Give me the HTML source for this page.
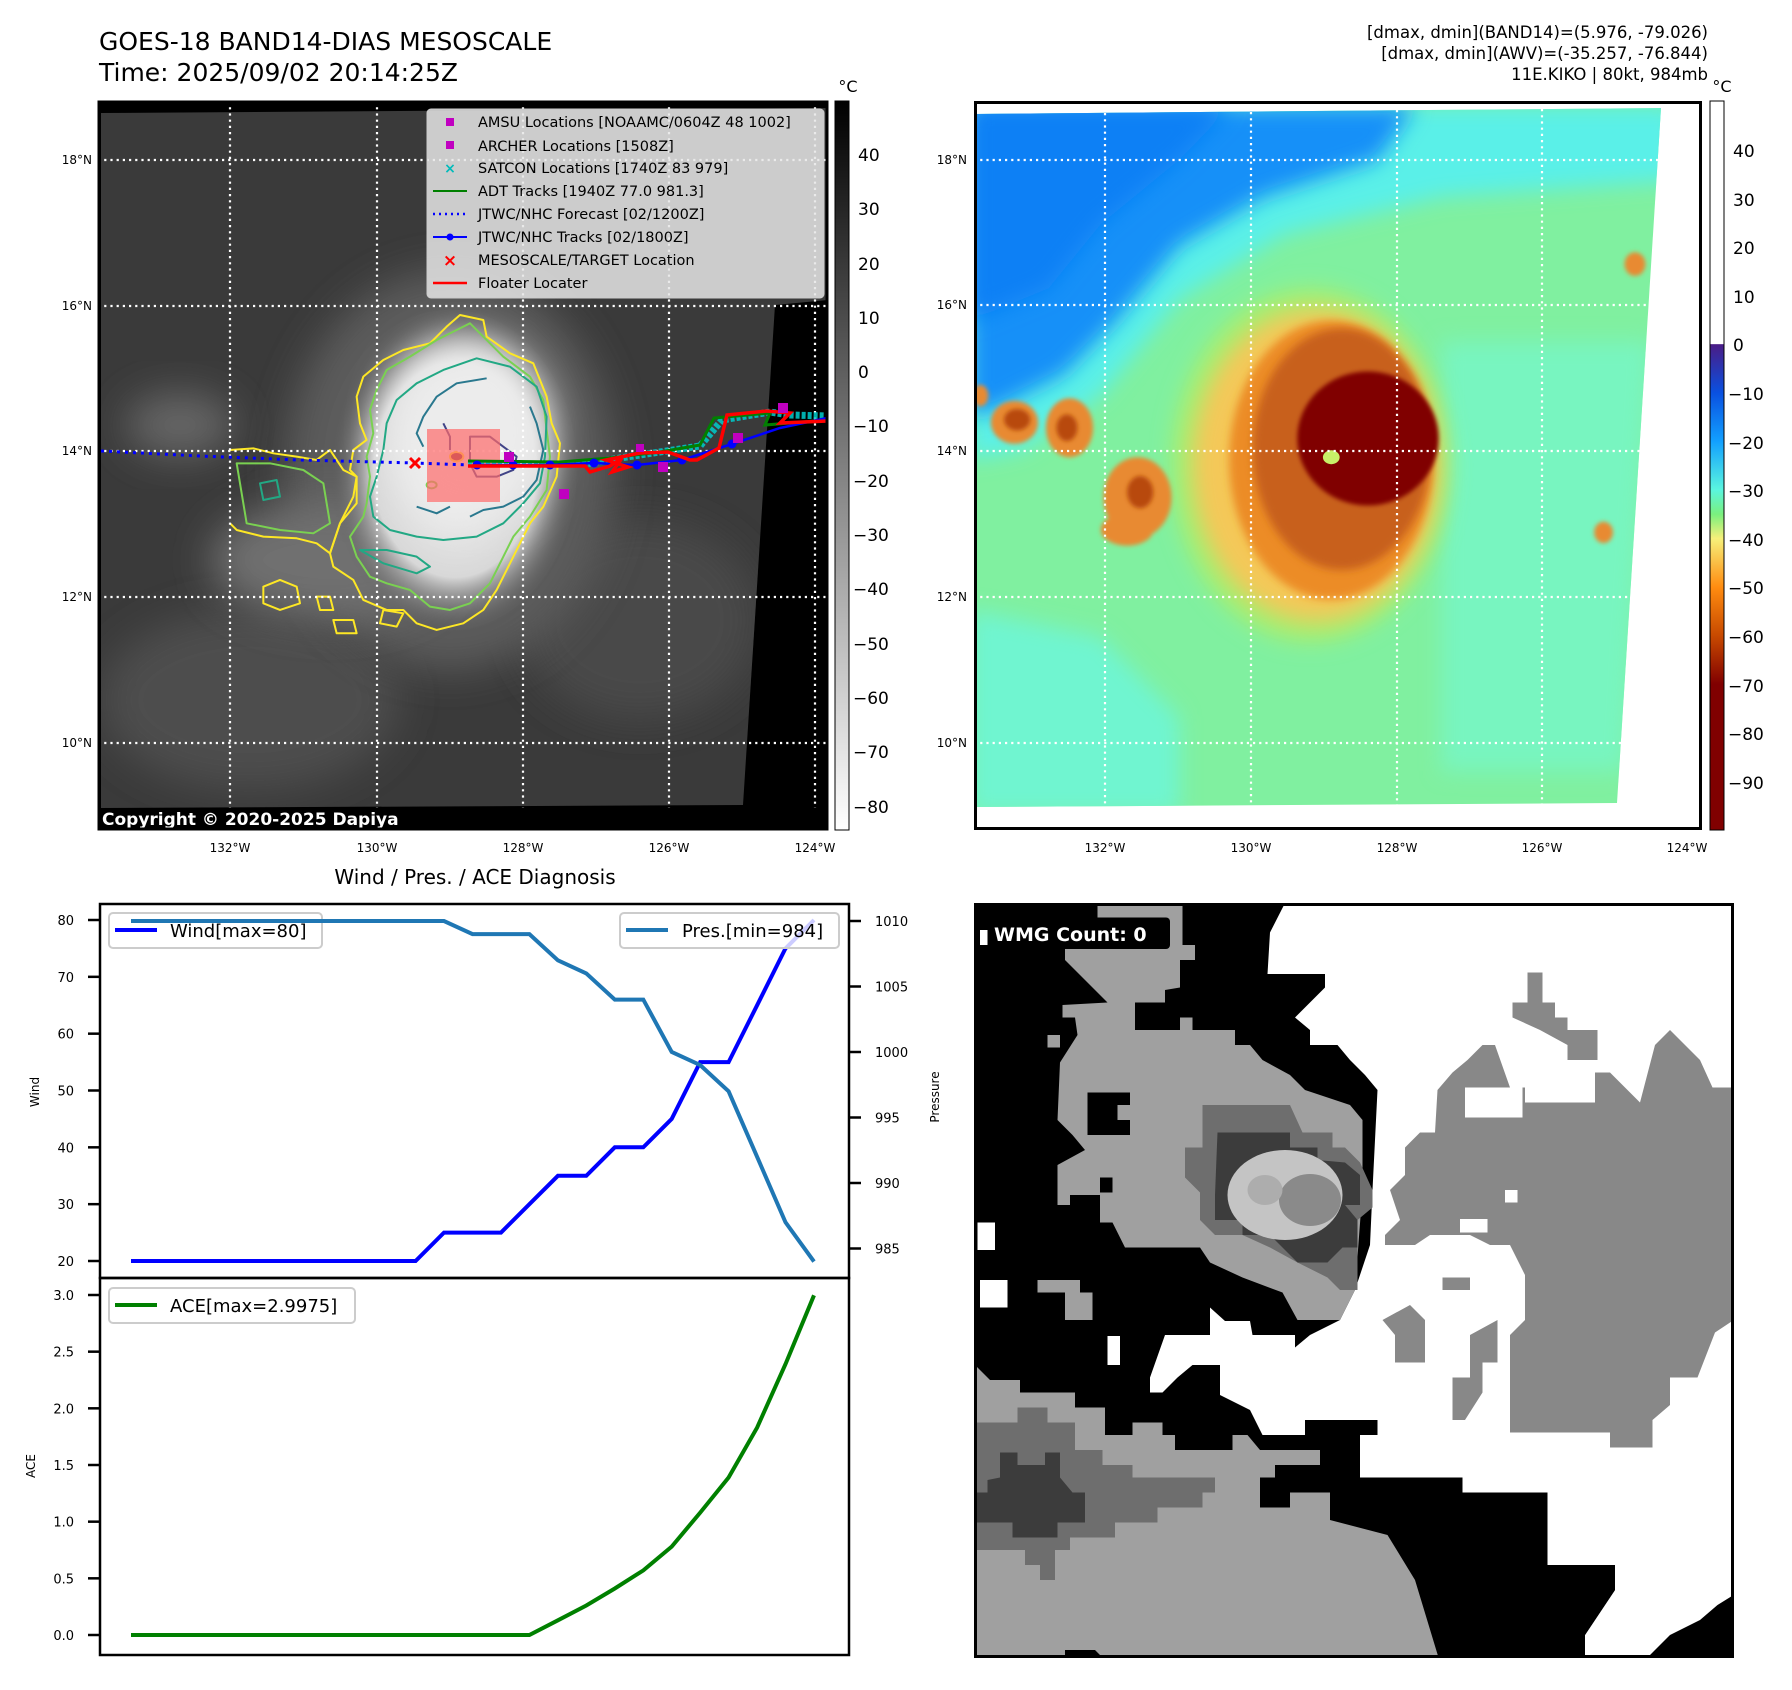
<!DOCTYPE html>
<html><head><meta charset="utf-8"><style>
html,body{margin:0;padding:0;background:#fff;}
body{width:1792px;height:1690px;position:relative;overflow:hidden;font-family:"DejaVu Sans","Liberation Sans",sans-serif;}
svg{position:absolute;left:0;top:0;}
</style></head><body>
<svg id="fig" width="1792" height="1690" viewBox="0 0 1792 1690" xmlns="http://www.w3.org/2000/svg" font-family="DejaVu Sans, Liberation Sans, sans-serif">
<defs>
<filter id="b8" x="-50%" y="-50%" width="200%" height="200%"><feGaussianBlur stdDeviation="8"/></filter>
<filter id="b20" x="-50%" y="-50%" width="200%" height="200%"><feGaussianBlur stdDeviation="20"/></filter>
<filter id="b4" x="-50%" y="-50%" width="200%" height="200%"><feGaussianBlur stdDeviation="4"/></filter>
<radialGradient id="cloud" cx="0.5" cy="0.5" r="0.5"><stop offset="0" stop-color="#f4f4f4"/><stop offset="0.65" stop-color="#d8d8d8"/><stop offset="1" stop-color="#5a5a5a" stop-opacity="0"/></radialGradient>
<linearGradient id="cbL" x1="0" y1="0" x2="0" y2="1"><stop offset="0" stop-color="#000"/><stop offset="1" stop-color="#fff"/></linearGradient>
<linearGradient id="cbR" x1="0" y1="0" x2="0" y2="1">
<stop offset="0" stop-color="#fff"/><stop offset="0.333" stop-color="#fff"/><stop offset="0.334" stop-color="#4a1c86"/>
<stop offset="0.4" stop-color="#0a50e0"/><stop offset="0.467" stop-color="#12a0ff"/><stop offset="0.533" stop-color="#5af5e0"/>
<stop offset="0.567" stop-color="#7af07e"/><stop offset="0.6" stop-color="#f6f07a"/><stop offset="0.667" stop-color="#ff8c10"/>
<stop offset="0.733" stop-color="#c84a00"/><stop offset="0.8" stop-color="#800000"/><stop offset="1" stop-color="#800000"/></linearGradient>
<clipPath id="clipL"><rect x="98" y="101" width="730" height="729"/></clipPath>
<clipPath id="clipLimg"><polygon points="101,113 828,108 828,300 775,305 743,805 101,808"/></clipPath>
<clipPath id="clipRimg"><polygon points="975,114 1661,108 1617,803 975,807"/></clipPath>
<clipPath id="clipW"><rect x="974" y="903" width="760" height="755"/></clipPath>
</defs>

<text x="99" y="50" font-size="25" fill="#000">GOES-18 BAND14-DIAS MESOSCALE</text>
<text x="99" y="81" font-size="25" fill="#000">Time: 2025/09/02 20:14:25Z</text>
<g font-size="16.5" text-anchor="end" fill="#000">
<text x="1708" y="38">[dmax, dmin](BAND14)=(5.976, -79.026)</text>
<text x="1708" y="59">[dmax, dmin](AWV)=(-35.257, -76.844)</text>
<text x="1708" y="80">11E.KIKO | 80kt, 984mb</text>
</g>

<g>
<rect x="98" y="101" width="730" height="729" fill="#000"/>
<g clip-path="url(#clipLimg)">
<rect x="98" y="101" width="730" height="729" fill="#3a3a3a"/>
<ellipse cx="250" cy="700" rx="150" ry="90" fill="#4e4e4e" filter="url(#b20)"/>
<ellipse cx="640" cy="620" rx="120" ry="100" fill="#4a4a4a" filter="url(#b20)"/>
<ellipse cx="450" cy="470" rx="165" ry="200" fill="#5c5c5c" filter="url(#b20)"/>
<ellipse cx="330" cy="560" rx="120" ry="60" fill="#707070" filter="url(#b20)"/>
<ellipse cx="455" cy="470" rx="125" ry="165" fill="url(#cloud)"/>
<ellipse cx="470" cy="430" rx="80" ry="90" fill="#ececec" filter="url(#b20)"/>
<ellipse cx="180" cy="425" rx="55" ry="32" fill="#666" filter="url(#b20)"/>
</g>
<g fill="none" stroke-width="6" stroke-linejoin="round" transform="translate(230,290) scale(0.3333)">
<path d="M690,75 L760,90 L770,140 L840,190 L910,220 L950,320 L965,400 L990,460 L980,560 L940,650 L900,700 L870,760 L840,820 L800,900 L760,960 L700,1000 L620,1020 L560,1000 L520,960 L470,960 L400,930 L370,870 L310,830 L300,790 L330,700 L380,640 L380,560 L360,540 L370,480 L410,450 L390,400 L380,320 L400,260 L460,210 L520,180 L600,160 L650,110 Z" stroke="#fde725"/>
<path d="M0,480 L70,475 L130,490 L200,500 L260,510 L300,480 L340,540 L380,560 L370,620 L330,700 L300,790 L260,760 L200,745 L100,740 L20,720 L0,700" stroke="#fde725"/>
<path d="M100,890 L150,870 L200,890 L210,940 L150,960 L100,940 Z M260,920 L300,920 L310,960 L270,960 Z M310,990 L370,990 L380,1030 L320,1030 Z M460,960 L520,970 L500,1010 L450,1000 Z" stroke="#fde725"/>
<path d="M720,100 L760,140 L820,200 L900,260 L940,330 L950,420 L960,500 L950,600 L900,680 L850,740 L820,800 L780,880 L720,940 L660,960 L600,950 L540,900 L470,880 L420,860 L380,800 L360,740 L400,680 L410,640 L420,560 L410,500 L430,430 L420,360 L440,300 L470,240 L540,200 L620,150 L680,120 Z" stroke="#7ad151"/>
<path d="M20,520 L120,520 L220,540 L280,580 L300,700 L250,730 L150,720 L50,700 Z" stroke="#7ad151"/>
<path d="M740,205 L840,230 L920,290 L950,380 L945,500 L930,580 L880,640 L820,700 L740,740 L640,750 L560,740 L480,720 L430,680 L420,620 L440,560 L460,480 L470,400 L500,330 L560,280 L640,240 Z" stroke="#22a884"/>
<path d="M90,580 L140,570 L150,620 L100,630 Z M390,780 L470,780 L560,800 L600,830 L560,850 L460,820 Z" stroke="#22a884"/>
<path d="M770,265 L680,280 L620,320 L580,380 L560,430 L580,470 M900,350 L920,400 L940,480 L920,570 L880,620 L820,650 L760,660 L720,680 M560,650 L620,670 L660,650" stroke="#2a788e"/>
<path d="M720,440 L780,440 L820,470 L860,500 L850,540 L800,560 L740,560 L720,520 Z M640,400 L660,440 L660,480" stroke="#414487"/>
<ellipse cx="680" cy="500" rx="20" ry="14" stroke="#fde725" fill="#8b2c2c"/>
<ellipse cx="605" cy="585" rx="15" ry="10" stroke="#7ad151"/>
</g>
<g stroke="#fff" stroke-width="2.2" stroke-dasharray="2.2,4" clip-path="url(#clipL)">
<line x1="98" y1="160" x2="828" y2="160"/><line x1="98" y1="306" x2="828" y2="306"/><line x1="98" y1="451" x2="828" y2="451"/><line x1="98" y1="597" x2="828" y2="597"/><line x1="98" y1="743" x2="828" y2="743"/>
<line x1="230" y1="101" x2="230" y2="830"/><line x1="377" y1="101" x2="377" y2="830"/><line x1="523" y1="101" x2="523" y2="830"/><line x1="669" y1="101" x2="669" y2="830"/><line x1="815" y1="101" x2="815" y2="830"/>
</g>
<rect x="427" y="429" width="73" height="73" fill="#ff6b6b" opacity="0.7"/>
<polyline points="101,451 200,456 300,460 415,463 470,465" fill="none" stroke="#00f" stroke-width="3" stroke-dasharray="3,5"/>
<polyline points="468,464 586,464 620,458 700,446 722,420 770,412 790,415 827,416" fill="none" stroke="#0cc" stroke-opacity="0.85" stroke-width="7" stroke-dasharray="4,2"/>
<polyline points="468,461 560,462 610,458 660,452 700,445 714,418 770,413 765,425 827,420" fill="none" stroke="#008000" stroke-width="3"/>
<polyline points="477,465 513,465 550,465 594,463 637,465 682,460 732,444 780,428 827,418" fill="none" stroke="#00f" stroke-width="2.5"/>
<g fill="#00f"><circle cx="477" cy="465" r="4.5"/><circle cx="513" cy="465" r="4.5"/><circle cx="550" cy="465" r="4.5"/><circle cx="594" cy="463" r="4.5"/><circle cx="637" cy="465" r="4.5"/><circle cx="682" cy="460" r="4.5"/><circle cx="732" cy="444" r="4.5"/></g>
<polyline points="468,466 585,466 590,472 610,466 622,458 612,472 628,467 606,460 640,453 668,452 690,460 697,460 719,448 727,415 767,411 790,413 780,423 827,421" fill="none" stroke="#f00" stroke-width="3.5"/>
<g fill="#c000c0"><rect x="504" y="452" width="10" height="10"/><rect x="559" y="489" width="10" height="10"/><rect x="658" y="462" width="10" height="10"/><rect x="733" y="433" width="10" height="10"/><rect x="778" y="403" width="10" height="10"/><rect x="636" y="444" width="8" height="8"/></g>
<g stroke="#f00" stroke-width="3"><line x1="410" y1="458" x2="420" y2="468"/><line x1="420" y1="458" x2="410" y2="468"/></g>
<rect x="98" y="808" width="730" height="22" fill="#000"/>
<text x="102" y="825" font-size="17" font-weight="bold" fill="#fff">Copyright © 2020-2025 Dapiya</text>
<rect x="99" y="102" width="728" height="727" fill="none" stroke="#000" stroke-width="3"/>
</g>
<g>
<rect x="427" y="109" width="397" height="189" rx="4" fill="#e6e6e6" fill-opacity="0.85" stroke="#ccc"/>
<g font-size="14.5" fill="#000">
<rect x="446" y="118" width="8" height="8" fill="#c000c0"/><text x="478" y="127">AMSU Locations [NOAAMC/0604Z 48 1002]</text>
<rect x="446" y="141" width="8" height="8" fill="#c000c0"/><text x="478" y="151">ARCHER Locations [1508Z]</text>
<text x="450" y="173" text-anchor="middle" fill="#0bb" font-weight="bold" font-size="14">×</text><text x="478" y="173">SATCON Locations [1740Z 83 979]</text>
<line x1="433" y1="191" x2="467" y2="191" stroke="#008000" stroke-width="2"/><text x="478" y="196">ADT Tracks [1940Z 77.0 981.3]</text>
<line x1="433" y1="214" x2="467" y2="214" stroke="#00f" stroke-width="2.5" stroke-dasharray="2,4"/><text x="478" y="219">JTWC/NHC Forecast [02/1200Z]</text>
<line x1="433" y1="237" x2="467" y2="237" stroke="#00f" stroke-width="2"/><circle cx="450" cy="237" r="3.5" fill="#00f"/><text x="478" y="242">JTWC/NHC Tracks [02/1800Z]</text>
<text x="450" y="266" text-anchor="middle" fill="#f00" font-weight="bold" font-size="17">×</text><text x="478" y="265">MESOSCALE/TARGET Location</text>
<line x1="433" y1="283" x2="467" y2="283" stroke="#f00" stroke-width="2.5"/><text x="478" y="288">Floater Locater</text>
</g></g>
<g font-size="12" fill="#000" text-anchor="end">
<text x="92" y="164">18°N</text><text x="92" y="310">16°N</text><text x="92" y="455">14°N</text><text x="92" y="601">12°N</text><text x="92" y="747">10°N</text></g>
<g font-size="12" fill="#000" text-anchor="middle">
<text x="230" y="852">132°W</text><text x="377" y="852">130°W</text><text x="523" y="852">128°W</text><text x="669" y="852">126°W</text><text x="815" y="852">124°W</text></g>
<g>
<rect x="835" y="101" width="14" height="729" fill="url(#cbL)" stroke="#000" stroke-width="1"/>
<text x="848" y="92" font-size="16" text-anchor="middle">°C</text>
<g font-size="17" fill="#000">
<text x="858" y="161">40</text><text x="858" y="215">30</text><text x="858" y="270">20</text><text x="858" y="324">10</text><text x="858" y="378">0</text><text x="853" y="432">−10</text><text x="853" y="487">−20</text><text x="853" y="541">−30</text><text x="853" y="595">−40</text><text x="853" y="650">−50</text><text x="853" y="704">−60</text><text x="853" y="758">−70</text><text x="853" y="813">−80</text></g></g>

<g>
<rect x="974" y="101" width="728" height="729" fill="#fff"/>
<g clip-path="url(#clipRimg)">
<rect x="970" y="100" width="740" height="720" fill="#80f0a0"/>
<g transform="translate(970,20) scale(0.5236,0.5365)">
<polygon points="0,1100 250,1150 400,1300 400,1480 0,1480" fill="#70f5d0" filter="url(#b20)"/>
<polygon points="0,160 1350,160 1350,300 900,330 600,400 400,520 250,700 100,800 0,820" fill="#5af0e8" filter="url(#b20)"/>
<polygon points="0,160 850,160 780,260 560,330 400,420 280,560 180,660 60,720 0,740" fill="#1890f8" filter="url(#b20)"/>
<polygon points="0,160 500,160 400,260 250,380 150,500 0,560" fill="#1080f5" filter="url(#b20)"/>
<polygon points="900,600 1300,600 1250,1400 900,1400" fill="#78f5c0" filter="url(#b20)"/>
<ellipse cx="650" cy="830" rx="265" ry="330" fill="#a8ee70" filter="url(#b20)"/>
<ellipse cx="660" cy="830" rx="235" ry="290" fill="#f4c858" filter="url(#b20)"/>
<ellipse cx="690" cy="820" rx="195" ry="260" fill="#ec8c28" filter="url(#b8)"/>
<ellipse cx="710" cy="800" rx="170" ry="225" fill="#c8601a" filter="url(#b8)"/>
<ellipse cx="760" cy="780" rx="135" ry="125" fill="#800000" filter="url(#b4)"/>
<ellipse cx="690" cy="815" rx="16" ry="13" fill="#c8f068"/>
<g fill="#e88a30" filter="url(#b4)"><ellipse cx="85" cy="750" rx="45" ry="40"/><ellipse cx="190" cy="760" rx="45" ry="55"/><ellipse cx="320" cy="890" rx="65" ry="75"/><ellipse cx="300" cy="950" rx="50" ry="30"/><ellipse cx="1270" cy="455" rx="20" ry="22"/><ellipse cx="1210" cy="955" rx="18" ry="20"/><ellipse cx="20" cy="700" rx="15" ry="20"/></g>
<g fill="#b84a10" filter="url(#b4)"><ellipse cx="90" cy="745" rx="25" ry="20"/><ellipse cx="185" cy="760" rx="20" ry="25"/><ellipse cx="325" cy="880" rx="25" ry="30"/></g>
</g></g>
<g stroke="#fff" stroke-width="2.2" stroke-dasharray="2.2,4">
<line x1="974" y1="160" x2="1660" y2="160"/><line x1="974" y1="305" x2="1652" y2="305"/><line x1="974" y1="451" x2="1642" y2="451"/><line x1="974" y1="597" x2="1633" y2="597"/><line x1="974" y1="743" x2="1623" y2="743"/>
<line x1="1105" y1="113" x2="1105" y2="806"/><line x1="1251" y1="112" x2="1251" y2="806"/><line x1="1397" y1="110" x2="1397" y2="805"/><line x1="1542" y1="109" x2="1542" y2="804"/></g>
<rect x="975.5" y="102.5" width="725" height="726" fill="none" stroke="#000" stroke-width="3"/>
</g>
<g font-size="12" fill="#000" text-anchor="end">
<text x="967" y="164">18°N</text><text x="967" y="309">16°N</text><text x="967" y="455">14°N</text><text x="967" y="601">12°N</text><text x="967" y="747">10°N</text></g>
<g font-size="12" fill="#000" text-anchor="middle">
<text x="1105" y="852">132°W</text><text x="1251" y="852">130°W</text><text x="1397" y="852">128°W</text><text x="1542" y="852">126°W</text><text x="1687" y="852">124°W</text></g>
<g>
<rect x="1710" y="101" width="14" height="729" fill="url(#cbR)" stroke="#000" stroke-width="1"/>
<text x="1722" y="92" font-size="16" text-anchor="middle">°C</text>
<g font-size="17" fill="#000">
<text x="1733" y="157">40</text><text x="1733" y="206">30</text><text x="1733" y="254">20</text><text x="1733" y="303">10</text><text x="1733" y="351">0</text><text x="1728" y="400">−10</text><text x="1728" y="449">−20</text><text x="1728" y="497">−30</text><text x="1728" y="546">−40</text><text x="1728" y="594">−50</text><text x="1728" y="643">−60</text><text x="1728" y="692">−70</text><text x="1728" y="740">−80</text><text x="1728" y="789">−90</text></g></g>

<g clip-path="url(#clipW)">
<rect x="974" y="903" width="760" height="755" fill="#000"/>
<g transform="translate(970,895) scale(0.5)">
<polygon fill="#fff" points="628,20 1537,20 1537,1535 1230,1535 1230,1480 1290,1390 1290,1340 1155,1340 1155,1195 985,1195 985,1165 780,1165 780,1080 815,1080 815,1050 670,1050 670,1080 585,1080 560,1030 500,1000 500,940 445,940 415,965 385,995 360,995 360,965 390,880 480,880 480,825 510,852 560,852 565,880 650,880 650,905 680,880 740,850 770,790 800,700 805,590 815,390 790,360 760,330 735,300 680,300 680,270 650,245 680,215 710,185 710,158 595,158 600,75"/>
<polygon fill="#888" points="870,505 900,475 930,475 935,390 965,355 995,330 1025,300 1050,300 1080,385 1110,385 1110,415 1250,415 1250,355 1280,355 1310,385 1340,415 1370,300 1400,270 1430,300 1460,330 1485,385 1535,385 1535,845 1490,875 1455,965 1455,1020 1400,1020 1365,1050 1365,1105 1280,1105 1280,1075 1080,1075 1080,880 1110,850 1110,760 1080,700 1040,700 1000,680 920,680 890,700 830,700 830,680 860,650 840,590 870,560"/>
<polygon fill="#888" points="1115,155 1145,155 1145,215 1170,215 1170,245 1195,245 1195,270 1255,270 1255,330 1195,330 1195,300 1140,270 1085,245 1085,215 1115,215"/>
<polygon fill="#888" points="825,850 880,820 910,850 910,935 850,935 850,880"/>
<polygon fill="#888" points="965,965 1000,965 1000,880 1055,850 1055,935 1025,935 1025,995 990,1050 965,1050"/>
<polygon fill="#888" points="945,765 1000,765 1000,790 945,790"/>
<polygon fill="#fff" points="990,385 1105,385 1105,445 990,445"/>
<polygon fill="#fff" points="980,648 1035,648 1035,675 980,675"/>
<polygon fill="#fff" points="1400,965 1455,965 1455,1020 1400,1020"/>
<polygon fill="#fff" points="1070,590 1095,590 1095,615 1070,615"/>
<polygon fill="#000" points="720,1195 1155,1195 1155,1340 1290,1340 1290,1390 1230,1480 1230,1535 940,1535 890,1370 835,1280 720,1250"/>
<polygon fill="#000" points="1535,1395 1535,1535 1345,1535 1400,1480 1460,1450 1495,1420"/>
<polygon fill="#a0a0a0" points="255,20 425,20 425,100 450,100 450,130 420,130 420,185 390,190 390,215 330,215 330,270 420,270 420,245 445,245 445,270 530,270 530,300 560,300 585,330 640,360 670,390 760,420 785,450 785,590 770,790 740,850 655,850 625,795 545,765 480,735 460,705 310,705 285,655 260,655 260,600 200,600 200,620 175,620 175,540 230,510 205,480 175,450 180,335 215,280 210,245 185,245 185,220 275,215 245,185 220,160 190,130 190,105 255,100"/>
<polygon fill="#000" points="235,395 320,395 320,420 295,420 295,450 320,450 320,480 235,480"/>
<polygon fill="#000" points="260,565 285,565 285,595 260,595"/>
<polygon fill="#a0a0a0" points="135,770 220,770 220,795 245,795 245,850 190,850 190,795 135,795"/>
<polygon fill="#a0a0a0" points="155,280 180,280 180,305 155,305"/>
<polygon fill="#a0a0a0" points="10,940 40,970 100,970 100,995 210,995 210,1025 270,1025 270,1080 325,1080 325,1055 385,1055 385,1080 410,1080 410,1110 525,1110 525,1080 555,1080 580,1110 700,1110 700,1140 610,1140 610,1165 580,1165 580,1225 640,1225 640,1195 720,1195 720,1250 835,1280 890,1370 940,1535 275,1535 250,1510 190,1510 190,1535 10,1535"/>
<polygon fill="#6e6e6e" points="10,1055 95,1055 95,1025 155,1025 155,1055 210,1055 210,1110 265,1110 265,1140 325,1140 325,1165 490,1165 490,1195 465,1195 465,1225 375,1225 375,1255 290,1255 290,1285 200,1285 200,1310 170,1310 170,1370 140,1370 140,1340 110,1340 110,1310 10,1310"/>
<polygon fill="#3c3c3c" points="60,1115 95,1115 95,1140 150,1140 150,1115 180,1115 180,1165 205,1195 230,1195 230,1255 175,1255 175,1285 85,1285 85,1255 10,1255 10,1195 35,1195 35,1170 60,1165"/>
<polygon fill="#6e6e6e" points="465,420 640,420 665,475 725,475 725,505 750,505 780,535 805,590 805,625 775,650 775,790 740,790 715,765 655,735 600,705 545,680 490,680 460,650 460,595 430,565 430,505 465,505"/>
<polygon fill="#3c3c3c" points="495,475 640,475 640,505 695,505 695,530 750,535 780,560 780,620 750,620 775,650 775,705 745,705 715,735 655,735 600,680 545,680 545,650 490,650 490,600"/>
<ellipse cx="630" cy="600" rx="115" ry="90" fill="#c4c4c4"/>
<ellipse cx="680" cy="610" rx="62" ry="52" fill="#8a8a8a"/>
<ellipse cx="590" cy="590" rx="35" ry="30" fill="#adadad"/>
<polygon fill="#fff" points="15,655 50,655 50,710 15,710"/>
<polygon fill="#fff" points="20,770 75,770 75,825 20,825"/>
<polygon fill="#fff" points="275,882 300,882 300,940 275,940"/>
<rect x="15" y="45" width="385" height="63" rx="8" fill="#000"/>
<rect x="20" y="70" width="15" height="30" fill="#fff"/>
</g>
<text x="994" y="941" font-size="19" font-weight="bold" fill="#fff">WMG Count: 0</text>
<rect x="975.5" y="904.5" width="757" height="752" fill="none" stroke="#000" stroke-width="3"/>
</g>

<text x="475" y="884" font-size="20" text-anchor="middle">Wind / Pres. / ACE Diagnosis</text>
<g id="chart"></g>
</svg>
<script>
const windVals = [20,20,20,20,20,20,20,20,20,20,20,25,25,25,30,35,35,40,40,45,55,55,65,75,80];
const presVals = [1010,1010,1010,1010,1010,1010,1010,1010,1010,1010,1010,1010,1009,1009,1009,1007,1006,1004,1004,1000,999,997,992,987,984];
const aceVals = [0,0,0,0,0,0,0,0,0,0,0,0,0,0,0,0.13,0.26,0.41,0.57,0.78,1.08,1.39,1.83,2.39,2.9975];
const windTicks = [20,30,40,50,60,70,80];
const presTicks = [985,990,995,1000,1005,1010];
const aceTicks = [0.0,0.5,1.0,1.5,2.0,2.5,3.0];

const NS = 'http://www.w3.org/2000/svg';
const chart = document.getElementById('chart');
const X0 = 131, X1 = 814;
function xScale(i){ return X0 + (X1 - X0) * i / (windVals.length - 1); }
function yWind(v){ return 1261 + (v - 20) * (920 - 1261) / 60; }
function yPres(v){ return 921 + (1010 - v) * 65.5 / 5; }
function yAce(v){ return 1635 + v * (1295 - 1635) / 3; }
function mk(tag, attrs, parent){ const e = document.createElementNS(NS, tag); for (const k in attrs) e.setAttribute(k, attrs[k]); (parent||chart).appendChild(e); return e; }

const f1 = mk('rect', {x:100, y:904, width:749, height:374, fill:'none', stroke:'#000', 'stroke-width':2.5});


const f2 = mk('rect', {x:100, y:1278, width:749, height:377, fill:'none', stroke:'#000', 'stroke-width':2.5});



function lineThrough(vals, yf){ return vals.map((v,i)=> xScale(i).toFixed(1)+','+yf(v).toFixed(1)).join(' '); }

const wl = mk('polyline', {points: lineThrough(windVals, yWind), fill:'none', stroke:'#0000ff', 'stroke-width':4});


const wlg = mk('g', {});


mk('rect', {x:109, y:913, width:213, height:35, rx:4, fill:'#fff', 'fill-opacity':0.8, stroke:'#ccc', 'stroke-width':2}, wlg);
mk('line', {x1:115, y1:930, x2:157, y2:930, stroke:'#0000ff', 'stroke-width':4}, wlg);
const wt = mk('text', {x:170, y:937, 'font-size':18}, wlg); wt.textContent = 'Wind[max=80]';
const pl = mk('polyline', {points: lineThrough(presVals, yPres), fill:'none', stroke:'#1f77b4', 'stroke-width':4});


const plg = mk('g', {});


mk('rect', {x:620, y:913, width:219, height:35, rx:4, fill:'#fff', 'fill-opacity':0.8, stroke:'#ccc', 'stroke-width':2}, plg);
mk('line', {x1:626, y1:930, x2:668, y2:930, stroke:'#1f77b4', 'stroke-width':4}, plg);
const ptx = mk('text', {x:682, y:937, 'font-size':18}, plg); ptx.textContent = 'Pres.[min=984]';
const al = mk('polyline', {points: lineThrough(aceVals, yAce), fill:'none', stroke:'#008000', 'stroke-width':4});


const alg = mk('g', {});


mk('rect', {x:109, y:1288, width:246, height:35, rx:4, fill:'#fff', 'fill-opacity':0.8, stroke:'#ccc', 'stroke-width':2}, alg);
mk('line', {x1:115, y1:1305, x2:157, y2:1305, stroke:'#008000', 'stroke-width':4}, alg);
const at = mk('text', {x:170, y:1312, 'font-size':18}, alg); at.textContent = 'ACE[max=2.9975]';

windTicks.forEach(v => {
  const y = yWind(v);
  mk('line', {x1:88, y1:y, x2:100, y2:y, stroke:'#000', 'stroke-width':2.5});
  const t = mk('text', {x:74, y:y+5, 'font-size':13, 'text-anchor':'end'}); t.textContent = v;
  
  
});
presTicks.forEach(v => {
  const y = yPres(v);
  mk('line', {x1:849, y1:y, x2:861, y2:y, stroke:'#000', 'stroke-width':2.5});
  const t = mk('text', {x:875, y:y+5, 'font-size':13}); t.textContent = v;
  
  
});
aceTicks.forEach(v => {
  const y = yAce(v);
  mk('line', {x1:88, y1:y, x2:100, y2:y, stroke:'#000', 'stroke-width':2.5});
  const t = mk('text', {x:74, y:y+5, 'font-size':13, 'text-anchor':'end'}); t.textContent = v.toFixed(1);
  
  
});
const yl1 = mk('text', {x:0, y:0, 'font-size':12, 'text-anchor':'middle', transform:'translate(39,1092) rotate(-90)'}); yl1.textContent = 'Wind';


const yl2 = mk('text', {x:0, y:0, 'font-size':12, 'text-anchor':'middle', transform:'translate(939,1097) rotate(-90)'}); yl2.textContent = 'Pressure';


const yl3 = mk('text', {x:0, y:0, 'font-size':12, 'text-anchor':'middle', transform:'translate(35,1466) rotate(-90)'}); yl3.textContent = 'ACE';


</script>
</body></html>
